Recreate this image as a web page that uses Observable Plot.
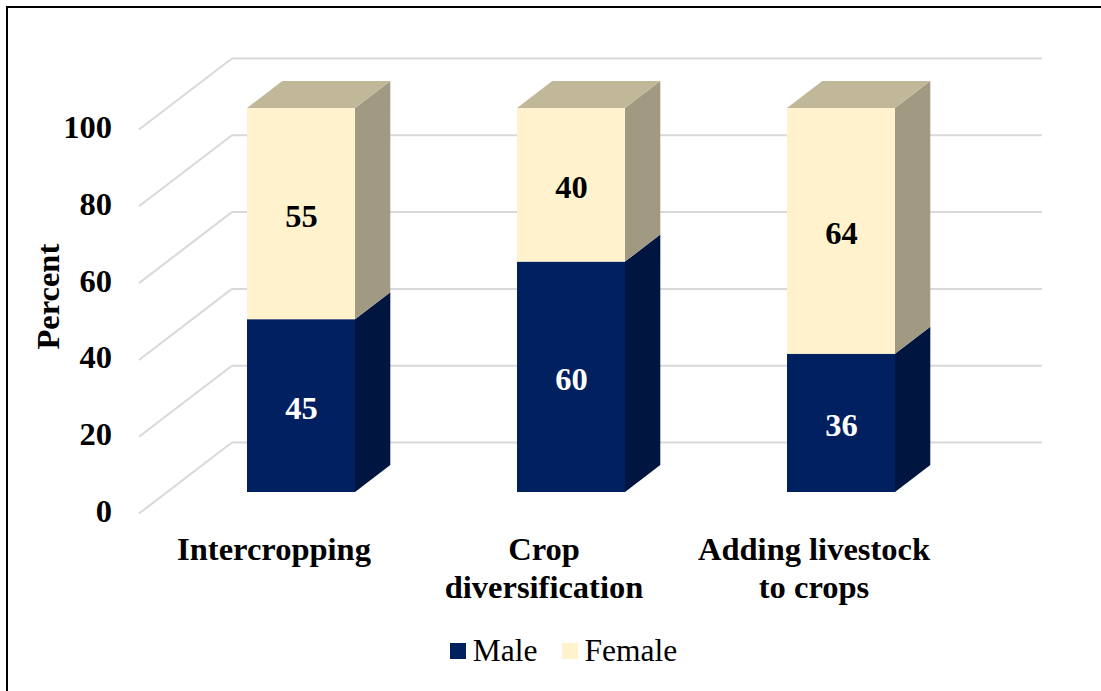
<!DOCTYPE html>
<html>
<head>
<meta charset="utf-8">
<script src="https://cdn.jsdelivr.net/npm/d3@7"></script>
<script src="https://cdn.jsdelivr.net/npm/@observablehq/plot@0.6"></script>
<style>
  html, body { margin: 0; padding: 0; background: #fff; }
  body { width: 1101px; height: 691px; overflow: hidden; position: relative; font-family: "Liberation Serif", "Times New Roman", serif; }
  #frame { position: absolute; left: 6px; top: 6px; width: 1120px; height: 720px; border: 2px solid #000; box-sizing: border-box; pointer-events: none; }
  #chart { position: absolute; left: 0; top: 0; }
  #legend { position: absolute; left: 0; top: 633px; width: 1101px; display: flex; justify-content: center; align-items: center; padding-left: 26px; box-sizing: border-box; font-size: 31.5px; line-height: 36px; color: #000; }
  .item { display: flex; align-items: center; }
  .sw { width: 16px; height: 16px; margin-right: 7px; }
  .gap { width: 24px; }
</style>
</head>
<body>
<div id="chart"></div>
<div id="legend"></div>
<div id="frame"></div>
<script>
// ---- data ----
const categories = ["Intercropping", "Crop\ndiversification", "Adding livestock\nto crops"];
const male = [45, 60, 36];
const female = [55, 40, 64];
const seriesNames = ["Male", "Female"];
const yTicks = [0, 20, 40, 60, 80, 100];
const yLabel = "Percent";

// ---- styling / 3D projection constants ----
const colors = {
  Male:   {front: "#002060", side: "#001641", top: "#2a4478", text: "#ffffff"},
  Female: {front: "#FFF2CC", side: "#A19981", top: "#C1B89A", text: "#000000"}
};
const FS = 32.5;
const DX = 0.344, DY = 18.5;          // oblique shift per full depth (data units)
const Z_BAR0 = 0.296, Z_BAR1 = 0.676; // bar front / back depth
const HW = 0.2;                       // half bar width
const proj = (x, v, z) => ({x: x + DX * (z - Z_BAR0), y: v + DY * (z - Z_BAR0)});

// ---- build segments ----
const segs = [];
categories.forEach((c, i) => {
  segs.push({i, series: "Male", y0: 0, y1: male[i], value: male[i]});
  segs.push({i, series: "Female", y0: male[i], y1: male[i] + female[i], value: female[i]});
});
const ddx = DX * (Z_BAR1 - Z_BAR0), ddy = DY * (Z_BAR1 - Z_BAR0);
const sidePts = segs.flatMap((d, k) => [
  {key: k, series: d.series, x: d.i + HW, y1: d.y0, y2: d.y1},
  {key: k, series: d.series, x: d.i + HW + ddx, y1: d.y0 + ddy, y2: d.y1 + ddy}
]);
const topSegs = segs.filter(d => d.series === "Female");
const topPts = topSegs.flatMap((d, k) => [
  {key: k, series: d.series, y: d.y1, x1: d.i - HW, x2: d.i + HW},
  {key: k, series: d.series, y: d.y1 + ddy, x1: d.i - HW + ddx, x2: d.i + HW + ddx}
]);

const marks = [];
// gridlines: left wall diagonals & back wall
marks.push(Plot.link(yTicks, {
  x1: v => proj(-0.5, v, 0).x, y1: v => proj(-0.5, v, 0).y,
  x2: v => proj(-0.5, v, 1).x, y2: v => proj(-0.5, v, 1).y,
  stroke: "#D9D9D9", strokeWidth: 2
}));
marks.push(Plot.link(yTicks, {
  x1: v => proj(-0.5, v, 1).x, y1: v => proj(-0.5, v, 1).y,
  x2: v => proj(2.5, v, 1).x, y2: v => proj(2.5, v, 1).y,
  stroke: "#D9D9D9", strokeWidth: 2
}));
// bars
for (const s of seriesNames) {
  marks.push(Plot.rect(segs.filter(d => d.series === s), {
    x1: d => d.i - HW, x2: d => d.i + HW, y1: "y0", y2: "y1", fill: colors[s].front
  }));
  marks.push(Plot.areaY(sidePts.filter(d => d.series === s), {
    x: "x", y1: "y1", y2: "y2", z: "key", fill: colors[s].side
  }));
}
marks.push(Plot.areaX(topPts, {y: "y", x1: "x1", x2: "x2", z: "key", fill: d => colors[d.series].top}));
// value labels
marks.push(Plot.text(segs, {
  x: "i", y: d => (d.y0 + d.y1) / 2, text: d => String(d.value),
  fill: d => colors[d.series].text, fontSize: FS, fontWeight: "bold", dy: 2
}));
// y tick labels
marks.push(Plot.text(yTicks, {
  x: v => proj(-0.5, v, 0).x, y: v => proj(-0.5, v, 0).y, text: v => String(v),
  textAnchor: "end", dx: -27, dy: -2, fontSize: FS, fontWeight: "bold", fill: "#000"
}));
// category labels
marks.push(Plot.text(categories, {
  x: (c, i) => proj(i, 0, 0).x, y: (c, i) => proj(i, 0, 0).y, text: c => c,
  lineAnchor: "top", dy: 19, lineHeight: 1.18, fontSize: FS, fontWeight: "bold", fill: "#000"
}));
// y axis title
marks.push(Plot.text([yLabel], {
  x: () => proj(-0.5, 0, 0).x, y: () => 51, text: d => d, rotate: -90, dx: -90,
  fontSize: FS, fontWeight: "bold", fill: "#000"
}));

const chart = Plot.plot({
  width: 1101, height: 625,
  marginLeft: 0, marginTop: 0, marginBottom: 0, marginRight: 0,
  style: {fontFamily: "Liberation Serif, Times New Roman, serif", background: "transparent", overflow: "visible"},
  x: {type: "linear", domain: [0, 2], range: [301, 841], axis: null},
  y: {type: "linear", domain: [0, 100], range: [492, 108], axis: null},
  color: {type: "identity"},
  marks
});
document.getElementById("chart").appendChild(chart);

// legend
const lg = document.getElementById("legend");
seriesNames.forEach((s, k) => {
  if (k > 0) { const g = document.createElement("div"); g.className = "gap"; lg.appendChild(g); }
  const it = document.createElement("div"); it.className = "item";
  const sw = document.createElement("div"); sw.className = "sw"; sw.style.background = colors[s].front;
  const tx = document.createElement("span"); tx.textContent = s;
  it.appendChild(sw); it.appendChild(tx); lg.appendChild(it);
});
</script>
</body>
</html>
